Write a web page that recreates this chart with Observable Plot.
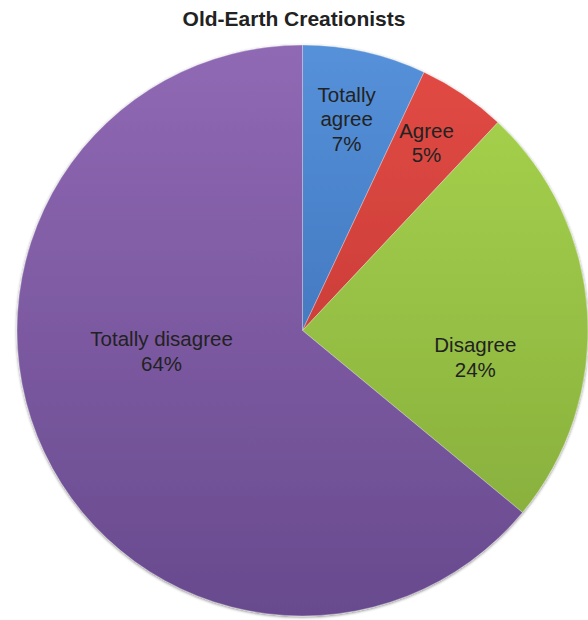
<!DOCTYPE html>
<html>
<head>
<meta charset="utf-8">
<script src="https://cdn.jsdelivr.net/npm/d3@7"></script>
<script src="https://cdn.jsdelivr.net/npm/@observablehq/plot@0.6"></script>
<style>
  html, body { margin: 0; padding: 0; background: #fff; }
  #title { width: 588px; height: 36px; overflow: visible; position: relative; }
  #title span { position: absolute; left: 0; width: 588px; top: 7px; line-height: 24px; text-align: center;
           font: bold 21px "Liberation Sans", Arial, sans-serif; color: #222; }
  #chart svg { display: block; }
</style>
</head>
<body>
<div id="title"><span>Old-Earth Creationists</span></div>
<div id="chart"></div>
<script>
const categories = ["Totally agree", "Agree", "Disagree", "Totally disagree"];
const labelLines = ["Totally\nagree", "Agree", "Disagree", "Totally disagree"];
const values = [7, 5, 24, 64];
// shading: colour at top and bottom of the pie
const colorsTop = ["#5591d9", "#e24b45", "#a9d54e", "#9069b4"];
const colorsBottom = ["#3363a9", "#b8322d", "#82a93a", "#684a8e"];

// layout (label placement as fraction of radius, and angular nudge in degrees)
const labelRadius = [0.76, 0.79, 0.61, 0.5];
const labelNudge = [-1, -1, 12, 17.4];

const W = 588, H = 584;
const cx = 302.5, cy = 294.5, R = 285.5;

const data = categories.map((c, i) => ({category: c, label: labelLines[i], value: values[i]}));
const arcs = d3.pie().sort(null).value(d => d.value)(data);
const labels = arcs.map((a, i) => {
  const ang = (a.startAngle + a.endAngle) / 2 + labelNudge[i] * Math.PI / 180;
  return {x: labelRadius[i] * Math.sin(ang), y: labelRadius[i] * Math.cos(ang),
          text: `${a.data.label}\n${a.data.value}%`};
});

function pieMark(index, scales) {
  const x0 = scales.x(0), y0 = scales.y(0), r = scales.x(1) - scales.x(0);
  const g = d3.create("svg:g");
  const defs = g.append("defs");
  const f = defs.append("filter").attr("id", "shadow").attr("x", "-10%").attr("y", "-10%").attr("width", "120%").attr("height", "120%");
  f.append("feGaussianBlur").attr("in", "SourceAlpha").attr("stdDeviation", 1.5).attr("result", "b");
  f.append("feOffset").attr("in", "b").attr("dx", 0).attr("dy", 1).attr("result", "o");
  f.append("feComponentTransfer").attr("in", "o").attr("result", "o2")
    .append("feFuncA").attr("type", "linear").attr("slope", 0.5);
  const m = f.append("feMerge");
  m.append("feMergeNode").attr("in", "o2");
  m.append("feMergeNode").attr("in", "SourceGraphic");
  arcs.forEach((a, i) => {
    const lg = defs.append("linearGradient").attr("id", "grad" + i)
      .attr("gradientUnits", "userSpaceOnUse")
      .attr("x1", 0).attr("y1", -r).attr("x2", 0).attr("y2", r);
    lg.append("stop").attr("offset", "0%").attr("stop-color", colorsTop[i]);
    lg.append("stop").attr("offset", "100%").attr("stop-color", colorsBottom[i]);
  });
  const arc = d3.arc().innerRadius(0).outerRadius(r);
  const pg = g.append("g").attr("transform", `translate(${x0},${y0})`).attr("filter", "url(#shadow)");
  pg.selectAll("path").data(arcs).join("path")
    .attr("d", arc)
    .attr("fill", (d, i) => `url(#grad${i})`)
    .attr("stroke", "rgba(255,255,255,0.3)")
    .attr("stroke-width", 1)
    .attr("stroke-linejoin", "round");
  return g.node();
}

const chart = Plot.plot({
  width: W,
  height: H,
  margin: 0,
  x: {domain: [-1, 1], range: [cx - R, cx + R], axis: null},
  y: {domain: [-1, 1], range: [cy + R, cy - R], axis: null},
  style: {background: "transparent"},
  marks: [
    pieMark,
    Plot.text(labels, {
      x: "x", y: "y", text: "text",
      fontSize: 20.5, lineHeight: 1.2,
      fontFamily: "Liberation Sans, Arial, sans-serif",
      fill: "#222"
    })
  ]
});
document.getElementById("chart").appendChild(chart);
</script>
</body>
</html>
